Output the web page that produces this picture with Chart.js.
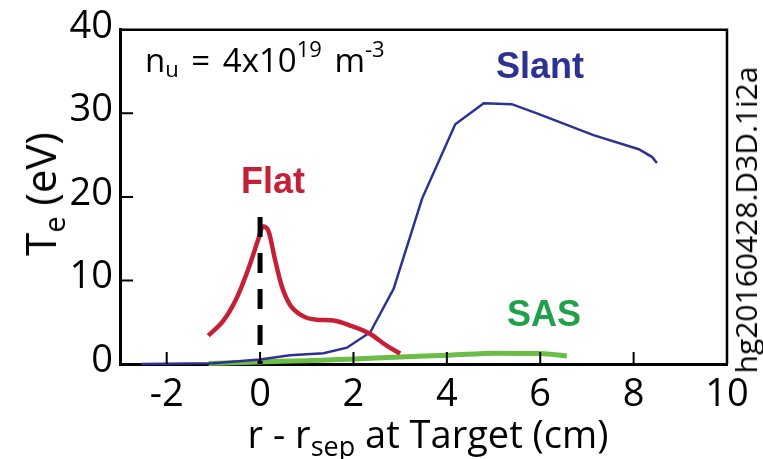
<!DOCTYPE html>
<html>
<head>
<meta charset="utf-8">
<script src="https://cdn.jsdelivr.net/npm/chart.js@4.4.0/dist/chart.umd.min.js"></script>
<style>
  body { margin: 0; background: #fff; }
  #wrap { position: relative; width: 763px; height: 459px; overflow: hidden; }
  .t { position: absolute; white-space: nowrap; line-height: 1; font-family: "Open Sans", sans-serif; color: #000; }
  .b { font-family: "Liberation Sans", Arial, sans-serif; font-weight: bold; font-size: 36px; transform: translateX(-50%); }
</style>
</head>
<body>
<div id="wrap">
  <canvas id="c" width="763" height="459"></canvas>
  <div class="t" id="dens" style="left:145px;top:43px;font-size:33px;word-spacing:4px">n<span style="font-size:22px;position:relative;top:5px">u</span> = 4x10<span style="font-size:22px;position:relative;top:-15px">19</span> m<span style="font-size:22px;position:relative;top:-15px">-3</span></div>
  <div class="t b" style="left:273px;top:163px;color:#c62036">Flat</div>
  <div class="t b" style="left:540px;top:48px;color:#2d3192">Slant</div>
  <div class="t b" style="left:544px;top:296px;color:#1fa04b">SAS</div>
  <div class="t" style="left:428px;top:414px;font-size:38px;transform:translateX(-50%)">r - r<span style="font-size:27px;position:relative;top:8px">sep</span> at Target (cm)</div>
  <div class="t" style="left:40px;top:194px;font-size:42px;transform:translate(-50%,-50%) rotate(-90deg)">T<span style="font-size:29px;position:relative;top:9px">e</span> (eV)</div>
  <div class="t" style="left:746px;top:220px;font-size:30px;transform:translate(-50%,-50%) rotate(-90deg)">hg20160428.D3D.1i2a</div>
</div>
<script>
// axis ticks
const xTicks = [-2, 0, 2, 4, 6, 8, 10];
const yTicks = [0, 10, 20, 30, 40];

// Flat divertor (red)
const flatX = [-1.11, -0.79, -0.5, -0.25, -0.04, 0.06, 0.18, 0.32, 0.46, 0.64, 0.93, 1.21, 1.57, 1.93, 2.36, 2.71, 3.0];
const flatY = [3.4, 5.15, 7.9, 11.4, 14.9, 16.45, 15.9, 12.5, 9.4, 7.1, 5.7, 5.3, 5.2, 4.6, 3.6, 2.2, 1.25];

// Slant divertor (blue)
const slantX = [-2.55, -1.0, 0, 0.64, 1.36, 1.86, 2.36, 2.86, 3.47, 4.18, 4.79, 5.39, 5.93, 7.14, 8.11, 8.39, 8.5];
const slantY = [0, 0.1, 0.55, 1.05, 1.3, 1.95, 3.8, 9.0, 19.8, 28.7, 31.2, 31.1, 30.0, 27.4, 25.7, 24.8, 24.05];

// SAS divertor (green)
const sasX = [-1.1, 0, 1, 2, 3, 4.04, 5.07, 6.0, 6.57];
const sasY = [0.05, 0.25, 0.4, 0.6, 0.85, 1.05, 1.3, 1.25, 0.97];

// separatrix marker
const sepX = [0, 0];
const sepY = [17.6, 0];

const pts = (xs, ys) => xs.map((x, i) => ({ x, y: ys[i] }));

// top/right frame + inward tick marks
const frame = {
  id: "frame",
  afterDatasetsDraw(chart) {
    const { ctx, chartArea: a, scales: { x, y } } = chart;
    ctx.save();
    ctx.strokeStyle = "#000";
    ctx.lineWidth = 2.5;
    ctx.beginPath();
    ctx.moveTo(a.left, a.top); ctx.lineTo(a.right, a.top); ctx.lineTo(a.right, a.bottom);
    ctx.stroke();
    ctx.lineWidth = 2;
    ctx.beginPath();
    xTicks.forEach(v => {
      if (v >= 10) return;
      const px = x.getPixelForValue(v);
      ctx.moveTo(px, a.bottom); ctx.lineTo(px, a.bottom - 12);
    });
    yTicks.forEach(v => {
      if (v <= 0 || v >= 40) return;
      const py = y.getPixelForValue(v);
      ctx.moveTo(a.left, py); ctx.lineTo(a.left + 13, py);
    });
    ctx.stroke();
    ctx.restore();
  }
};

const tickFont = { family: "Open Sans", size: 38 };

new Chart(document.getElementById("c"), {
  type: "line",
  data: {
    datasets: [
      { label: "sep", data: pts(sepX, sepY), borderColor: "#000", borderWidth: 5, borderDash: [20, 16], pointRadius: 0, clip: false },
      { label: "Flat", data: pts(flatX, flatY), borderColor: "#c62036", borderWidth: 4.5, pointRadius: 0, cubicInterpolationMode: "monotone", clip: false },
      { label: "Slant", data: pts(slantX, slantY), borderColor: "#2d3192", borderWidth: 2.5, pointRadius: 0, tension: 0, clip: false },
      { label: "SAS", data: pts(sasX, sasY), borderColor: "#6abd45", borderWidth: 5, pointRadius: 0, cubicInterpolationMode: "monotone", clip: false }
    ]
  },
  options: {
    responsive: false,
    animation: false,
    layout: { padding: { top: 22, right: 36, left: 0, bottom: 0 } },
    plugins: { legend: { display: false }, tooltip: { enabled: false } },
    scales: {
      x: {
        type: "linear", min: -3, max: 10,
        afterBuildTicks: s => { s.ticks = xTicks.map(v => ({ value: v })); },
        afterFit: s => { s.height = 95; },
        grid: { display: false, drawTicks: false },
        border: { display: true, color: "#000", width: 3 },
        ticks: { color: "#000", font: tickFont, padding: 8, maxRotation: 0 }
      },
      y: {
        type: "linear", min: 0, max: 40,
        afterBuildTicks: s => { s.ticks = yTicks.map(v => ({ value: v })); },
        afterFit: s => { s.width = 120; },
        grid: { display: false, drawTicks: false },
        border: { display: true, color: "#000", width: 3 },
        ticks: { color: "#000", font: tickFont, padding: 7, labelOffset: -3 }
      }
    }
  },
  plugins: [frame]
});
</script>
</body>
</html>
